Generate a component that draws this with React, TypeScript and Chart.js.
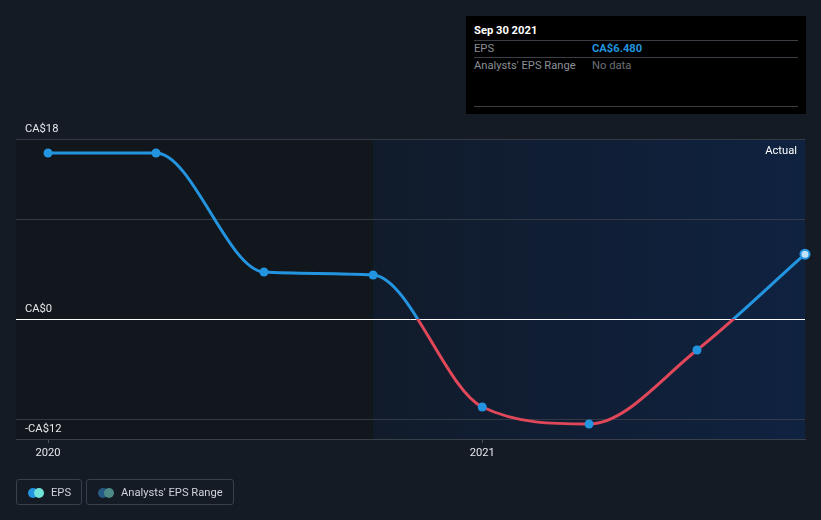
import React, { useEffect, useRef } from "react";
import { Chart, registerables } from "chart.js";

Chart.register(...registerables);

// Days since Dec 31 2019
const periodDays = [0, 91, 182, 274, 366, 456, 547, 638];
const periodLabels = ["Dec 31 2019", "Mar 31 2020", "Jun 30 2020", "Sep 30 2020", "Dec 31 2020", "Mar 31 2021", "Jun 30 2021", "Sep 30 2021"];
const epsValues = [16.6, 16.6, 4.7, 4.4, -8.8, -10.5, -3.1, 6.48];
const yGridValues = [-12, -10, 0, 10, 18];
const yLabelValues = [18, 0, -12];
const yLabelText: Record<string, string> = { "18": "CA$18", "0": "CA$0", "-12": "-CA$12" };
const xTickValues = [0, 366];
const xTickLabels = ["2020", "2021"];
const actualStartDay = 274;

const BLUE = "#2394df";
const RED = "#e04759";
const BG = "#151b25";
const FONT = "Roboto, 'Open Sans', sans-serif";
const FS = 11.2;

export default function App() {
  const ref = useRef<HTMLCanvasElement | null>(null);

  useEffect(() => {
    document.body.style.margin = "0";
    document.body.style.background = BG;
    const canvas = ref.current!;
    const bgPlugin = {
      id: "bgShade",
      beforeDraw(chart: any) {
        const { ctx, chartArea, scales } = chart;
        ctx.save();
        ctx.fillStyle = BG;
        ctx.fillRect(0, 0, chart.width, chart.height);
        const xs = scales.x.getPixelForValue(actualStartDay);
        ctx.fillStyle = "#12161d";
        ctx.fillRect(chartArea.left, chartArea.top, xs - chartArea.left, chartArea.bottom - chartArea.top);
        const g = ctx.createLinearGradient(xs, 0, chartArea.right, 0);
        g.addColorStop(0, "#111b2b");
        g.addColorStop(1, "#0f2240");
        ctx.fillStyle = g;
        ctx.fillRect(xs, chartArea.top, chartArea.right - xs, chartArea.bottom - chartArea.top);
        ctx.fillStyle = "#0f1e2a";
        ctx.fillRect(xs, chartArea.top, 2, chartArea.bottom - chartArea.top);
        ctx.restore();
      },
      afterDraw(chart: any) {
        const { ctx, chartArea } = chart;
        ctx.save();
        ctx.fillStyle = "#ffffff";
        ctx.font = `${FS}px ${FONT}`;
        ctx.textAlign = "right";
        ctx.textBaseline = "middle";
        ctx.fillText("Actual", chartArea.right - 8, chartArea.top + 12);
        ctx.restore();
      },
    };

    const chart = new Chart(canvas, {
      type: "line",
      data: {
        datasets: [
          {
            label: "EPS",
            data: periodDays.map((d, i) => ({ x: d, y: epsValues[i] })),
            cubicInterpolationMode: "monotone",
            borderWidth: 3,
            borderColor: (c: any) => {
              const chart = c.chart;
              const { chartArea, scales } = chart;
              if (!chartArea) return BLUE;
              const y0 = scales.y.getPixelForValue(0);
              const g = chart.ctx.createLinearGradient(0, chartArea.top, 0, chartArea.bottom);
              const s = Math.min(1, Math.max(0, (y0 - chartArea.top) / (chartArea.bottom - chartArea.top)));
              g.addColorStop(0, BLUE);
              g.addColorStop(s, BLUE);
              g.addColorStop(s, RED);
              g.addColorStop(1, RED);
              return g;
            },
            pointRadius: 4.5,
            pointBackgroundColor: periodDays.map((_, i) => (i === periodDays.length - 1 ? "#bfe0f7" : BLUE)),
            pointBorderColor: BLUE,
            pointBorderWidth: periodDays.map((_, i) => (i === periodDays.length - 1 ? 2 : 0)),
            clip: false,
          } as any,
        ],
      },
      options: {
        responsive: false,
        animation: false,
        layout: { padding: { left: 16, right: 16, top: 139, bottom: 0 } },
        plugins: { legend: { display: false }, tooltip: { enabled: false } },
        scales: {
          x: {
            type: "linear",
            min: -27,
            max: 638,
            afterFit: (s: any) => { s.height = 81; },
            afterBuildTicks: (s: any) => { s.ticks = xTickValues.map((v) => ({ value: v })); },
            ticks: {
              color: "#e6e8eb",
              font: { family: FONT, size: FS },
              padding: 3,
              maxRotation: 0,
              callback: (v: any) => xTickLabels[xTickValues.indexOf(Number(v))] ?? "",
            },
            grid: { drawOnChartArea: false, drawTicks: true, tickLength: 4, color: "#4a505a" },
            border: { display: true, color: "#3a404a" },
          },
          y: {
            type: "linear",
            min: -12,
            max: 18,
            afterFit: (s: any) => { s.width = 0; },
            afterBuildTicks: (s: any) => { s.ticks = yGridValues.map((v) => ({ value: v })); },
            ticks: {
              mirror: true,
              padding: 9,
              labelOffset: -10,
              color: "#e6e8eb",
              font: { family: FONT, size: FS },
              callback: (v: any) => (yLabelValues.includes(Number(v)) ? yLabelText[String(Number(v))] : ""),
            },
            grid: {
              drawTicks: false,
              color: (c: any) => (c.tick && c.tick.value === 0 ? "#ffffff" : "#343a45"),
              lineWidth: 1,
            },
            border: { display: false },
          },
        },
      },
      plugins: [bgPlugin],
    } as any);
    return () => chart.destroy();
  }, []);

  const tipRow = (label: string, value: string, valueColor: string, bold: boolean, top: number) => (
    <div style={{ position: "absolute", left: 8, top, width: 324, height: 16, borderTop: "1px solid #3b3f45", fontSize: FS, lineHeight: "16px" }}>
      <span style={{ position: "absolute", left: 0, top: 0, color: "#8a8f96" }}>{label}</span>
      <span style={{ position: "absolute", left: 118, top: 0, color: valueColor, fontWeight: bold ? 700 : 400 }}>{value}</span>
    </div>
  );

  const legendItem = (label: string, c1: string, c2: string, left: number, width: number) => (
    <div style={{ position: "absolute", left, top: 479, width, height: 26, border: "1px solid #3a404b", borderRadius: 3, boxSizing: "border-box", color: "#cfd3d8", fontSize: FS }}>
      <span style={{ position: "absolute", left: 11, top: 8, width: 10, height: 10, borderRadius: 5, background: c1 }} />
      <span style={{ position: "absolute", left: 17, top: 8, width: 10, height: 10, borderRadius: 5, background: c2 }} />
      <span style={{ position: "absolute", left: 34, top: 5, lineHeight: "16px" }}>{label}</span>
    </div>
  );

  return (
    <div style={{ position: "absolute", left: 0, top: 0, width: 821, height: 520, background: BG, fontFamily: FONT, overflow: "hidden" }}>
      <canvas ref={ref} width={821} height={520} style={{ position: "absolute", left: 0, top: 0 }} />
      <div style={{ position: "absolute", left: 466, top: 16, width: 340, height: 98, background: "#000000" }}>
        <div style={{ position: "absolute", left: 8, top: 7, color: "#ffffff", fontSize: FS, fontWeight: 700, lineHeight: "16px" }}>{periodLabels[periodLabels.length - 1]}</div>
        {tipRow("EPS", "CA$" + epsValues[epsValues.length - 1].toFixed(3), "#2394df", true, 24)}
        {tipRow("Analysts' EPS Range", "No data", "#6b7078", false, 41)}
        <div style={{ position: "absolute", left: 8, top: 90, width: 324, borderTop: "1px solid #3b3f45" }} />
      </div>
      {legendItem("EPS", "#2394df", "#6fe3d8", 16, 66)}
      {legendItem("Analysts' EPS Range", "#255b82", "#4d8a87", 86, 148)}
    </div>
  );
}
